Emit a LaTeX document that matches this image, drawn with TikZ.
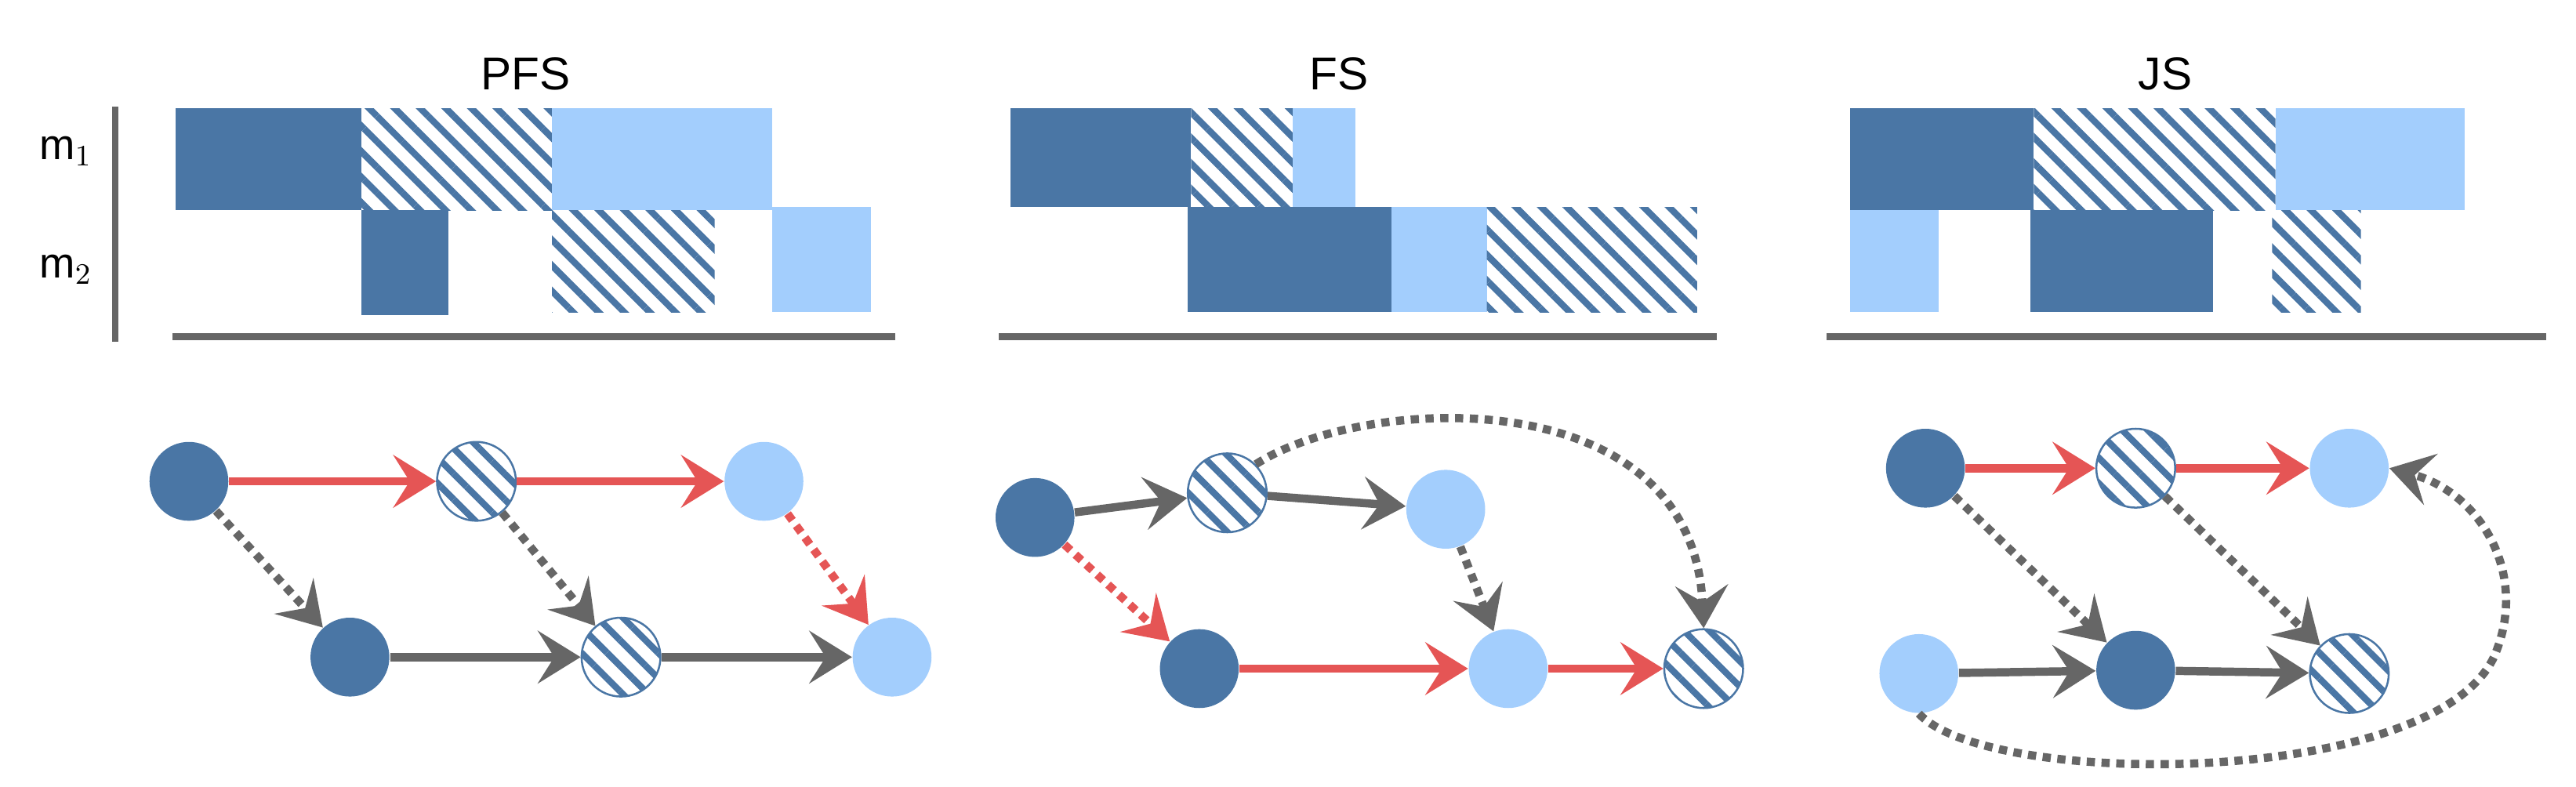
\documentclass[tikz,border=0pt]{standalone}
\usepackage{fontspec}
\setmainfont{Liberation Sans}
\usetikzlibrary{arrows.meta,patterns.meta}
\definecolor{jobdark}{RGB}{74,118,165}
\definecolor{joblight}{RGB}{163,206,253}
\definecolor{seqred}{RGB}{229,85,85}
\definecolor{axgray}{RGB}{102,102,102}
\begin{document}
\begin{tikzpicture}[x=0.5pt,y=-0.5pt,
    dk/.style={fill=jobdark},
    lt/.style={fill=joblight},
    ht/.style={pattern={Lines[angle=-45,distance=5.5pt,line width=2pt]},pattern color=jobdark},
    op/.style={circle,minimum size=24pt,inner sep=0pt},
    opdk/.style={op,fill=jobdark},
    oplt/.style={op,fill=joblight},
    opht/.style={op,draw=jobdark,line width=0.6pt,pattern={Lines[angle=-45,distance=5.5pt,line width=2pt]},pattern color=jobdark},
    tip/.style={-{Stealth[length=13pt,width=16pt,inset=5pt]}},
    seq/.style={tip,line width=2.5pt,draw=seqred},
    mach/.style={tip,line width=2.5pt,draw=axgray},
    dseq/.style={seq,dotted},
    dmach/.style={mach,dotted},
    axis/.style={draw=axgray,line width=2pt}]
\useasboundingbox (0,0) rectangle (1568,479);

% titles and machine labels
\node (tpfs) at (320,45) {\fontsize{14}{16}\selectfont PFS};
\node (tfs) at (815,45) {\fontsize{14}{16}\selectfont FS};
\node (tjs) at (1318,45) {\fontsize{14}{16}\selectfont JS};
\node (m1) at (40,92) {\fontsize{13}{15}\selectfont m$_1$};
\node (m2) at (40,164) {\fontsize{13}{15}\selectfont m$_2$};
\draw[axis] (70,65) -- (70,208);

% PFS chart
\fill[dk] (107,66) rectangle (220,128);
\fill[ht] (220,66) rectangle (336,128);
\fill[lt] (336,66) rectangle (470,128);
\fill[dk] (220,128) rectangle (273,192);
\fill[ht] (336,128) rectangle (435,190);
\fill[lt] (470,126) rectangle (530,190);
\draw[axis] (105,205) -- (545,205);

% FS chart
\fill[dk] (615,66) rectangle (725,126);
\fill[ht] (725,66) rectangle (787,126);
\fill[lt] (787,66) rectangle (825,126);
\fill[dk] (723,126) rectangle (847,190);
\fill[lt] (847,126) rectangle (905,190);
\fill[ht] (905,126) rectangle (1033,190);
\draw[axis] (608,205) -- (1045,205);

% JS chart
\fill[dk] (1126,66) rectangle (1238,128);
\fill[ht] (1238,66) rectangle (1385,128);
\fill[lt] (1385,66) rectangle (1500,128);
\fill[lt] (1126,128) rectangle (1180,190);
\fill[dk] (1236,128) rectangle (1347,190);
\fill[ht] (1383,128) rectangle (1437,190);
\draw[axis] (1112,205) -- (1550,205);

% PFS graph
\node[opdk] (pa1) at (115,293) {};
\node[opht] (pb1) at (290,293) {};
\node[oplt] (pc1) at (465,293) {};
\node[opdk] (pa2) at (213,400) {};
\node[opht] (pb2) at (378,400) {};
\node[oplt] (pc2) at (543,400) {};
\draw[seq] (pa1) -- (pb1);
\draw[seq] (pb1) -- (pc1);
\draw[dmach] (pa1) -- (pa2);
\draw[dmach] (pb1) -- (pb2);
\draw[dseq] (pc1) -- (pc2);
\draw[mach] (pa2) -- (pb2);
\draw[mach] (pb2) -- (pc2);

% FS graph
\node[opdk] (fa) at (630,315) {};
\node[opht] (fb) at (747,300) {};
\node[oplt] (fc) at (880,310) {};
\node[opdk] (fd) at (730,407) {};
\node[oplt] (fe) at (918,407) {};
\node[opht] (ff) at (1037,407) {};
\draw[mach] (fa) -- (fb);
\draw[mach] (fb) -- (fc);
\draw[dseq] (fa) -- (fd);
\draw[dmach] (fc) -- (fe);
\draw[seq] (fd) -- (fe);
\draw[seq] (fe) -- (ff);
\draw[dmach] (fb.north east) .. controls (830,240) and (1030,230) .. (ff.north);

% JS graph
\node[opdk] (ja) at (1172,285) {};
\node[opht] (jb) at (1300,285) {};
\node[oplt] (jc) at (1430,285) {};
\node[oplt] (jd) at (1168,410) {};
\node[opdk] (je) at (1300,408) {};
\node[opht] (jf) at (1430,410) {};
\draw[seq] (ja) -- (jb);
\draw[seq] (jb) -- (jc);
\draw[dmach] (ja) -- (je);
\draw[dmach] (jb) -- (jf);
\draw[mach] (jd) -- (je);
\draw[mach] (je) -- (jf);
\draw[dmach] (jd.south) .. controls (1210,480) and (1480,480) .. (1518,400) .. controls (1540,350) and (1510,300) .. (jc.east);
\end{tikzpicture}
\end{document}
